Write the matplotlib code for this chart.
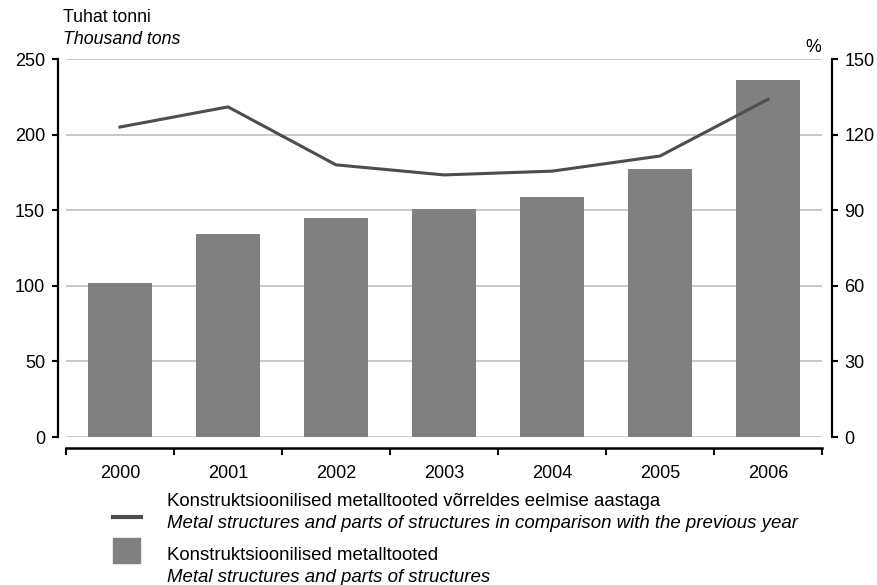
import matplotlib
matplotlib.use('Agg')
import matplotlib.pyplot as plt
from matplotlib.lines import Line2D
from matplotlib.patches import Rectangle

plt.rcParams['font.family'] = ['Liberation Sans', 'DejaVu Sans']
plt.rcParams['font.size'] = 13

# andmed / data
years = ['2000', '2001', '2002', '2003', '2004', '2005', '2006']
tonnid = [102, 134, 145, 151, 159, 177, 236]            # tuhat tonni
vorreldes = [123, 131, 108, 104, 105.5, 111.5, 134]     # %

bar_color = '#808080'
line_color = '#4d4d4d'
grid_color = '#c0c0c0'
leg_size = 13.4

fig = plt.figure(figsize=(8.78, 5.85), dpi=100)
ax = fig.add_axes([66/878, 148/585, 756/878, 378/585])

x = list(range(len(years)))
ax.bar(x, tonnid, width=0.59, color=bar_color, zorder=2)
ax.set_xlim(-0.5, len(years) - 0.5)
ax.set_ylim(0, 250)
ax.set_yticks(range(0, 251, 50))
ax.grid(axis='y', color=grid_color, lw=1.2, zorder=0)
ax.set_axisbelow(True)

# x-telg: kriipsud kategooriate vahel, sildid keskel
ax.set_xticks([i - 0.5 for i in range(len(years) + 1)])
ax.set_xticklabels([])
ax.set_xticks(x, minor=True)
ax.set_xticklabels(years, minor=True)
ax.tick_params(axis='x', which='major', length=5, width=1.5, direction='out')
ax.tick_params(axis='x', which='minor', length=0, pad=12)
ax.tick_params(axis='y', length=4, width=1.5, pad=5)

ax.spines['top'].set_visible(False)
ax.spines['right'].set_visible(False)
ax.spines['left'].set_position(('outward', 6))
ax.spines['bottom'].set_position(('outward', 8))
ax.spines['left'].set_linewidth(1.6)
ax.spines['bottom'].set_linewidth(1.8)

ax2 = ax.twinx()
ax2.plot(x, vorreldes, color=line_color, lw=2.2, zorder=3)
ax2.set_ylim(0, 150)
ax2.set_yticks(range(0, 151, 30))
ax2.tick_params(axis='y', length=4, width=1.5, pad=5)
for s in ['top', 'left', 'bottom']:
    ax2.spines[s].set_visible(False)
ax2.spines['right'].set_position(('outward', 7))
ax2.spines['right'].set_linewidth(1.6)

# telgede pealkirjad
fig.text(63/878, 1 - 18/585, 'Tuhat tonni', va='center', ha='left', fontsize=12.8)
fig.text(63/878, 1 - 40/585, 'Thousand tons', va='center', ha='left', style='italic', fontsize=12.8)
fig.text(813/878, 1 - 47/585, '%', va='center', ha='center', fontsize=12.8)

# legend
fig.add_artist(Line2D([113/878, 141/878], [1 - 517/585, 1 - 517/585],
                      color=line_color, lw=3, transform=fig.transFigure))
fig.add_artist(Rectangle((113/878, 1 - 563/585), 27/878, 25/585,
                         color=bar_color, transform=fig.transFigure))
fig.text(167/878, 1 - 502/585, 'Konstruktsioonilised metalltooted võrreldes eelmise aastaga',
         va='center', ha='left', fontsize=leg_size)
fig.text(167/878, 1 - 524/585, 'Metal structures and parts of structures in comparison with the previous year',
         va='center', ha='left', style='italic', fontsize=leg_size)
fig.text(167/878, 1 - 556/585, 'Konstruktsioonilised metalltooted', va='center', ha='left',
         fontsize=leg_size)
fig.text(167/878, 1 - 577/585, 'Metal structures and parts of structures',
         va='center', ha='left', style='italic', fontsize=leg_size)

fig.savefig('out.png', dpi=100)
